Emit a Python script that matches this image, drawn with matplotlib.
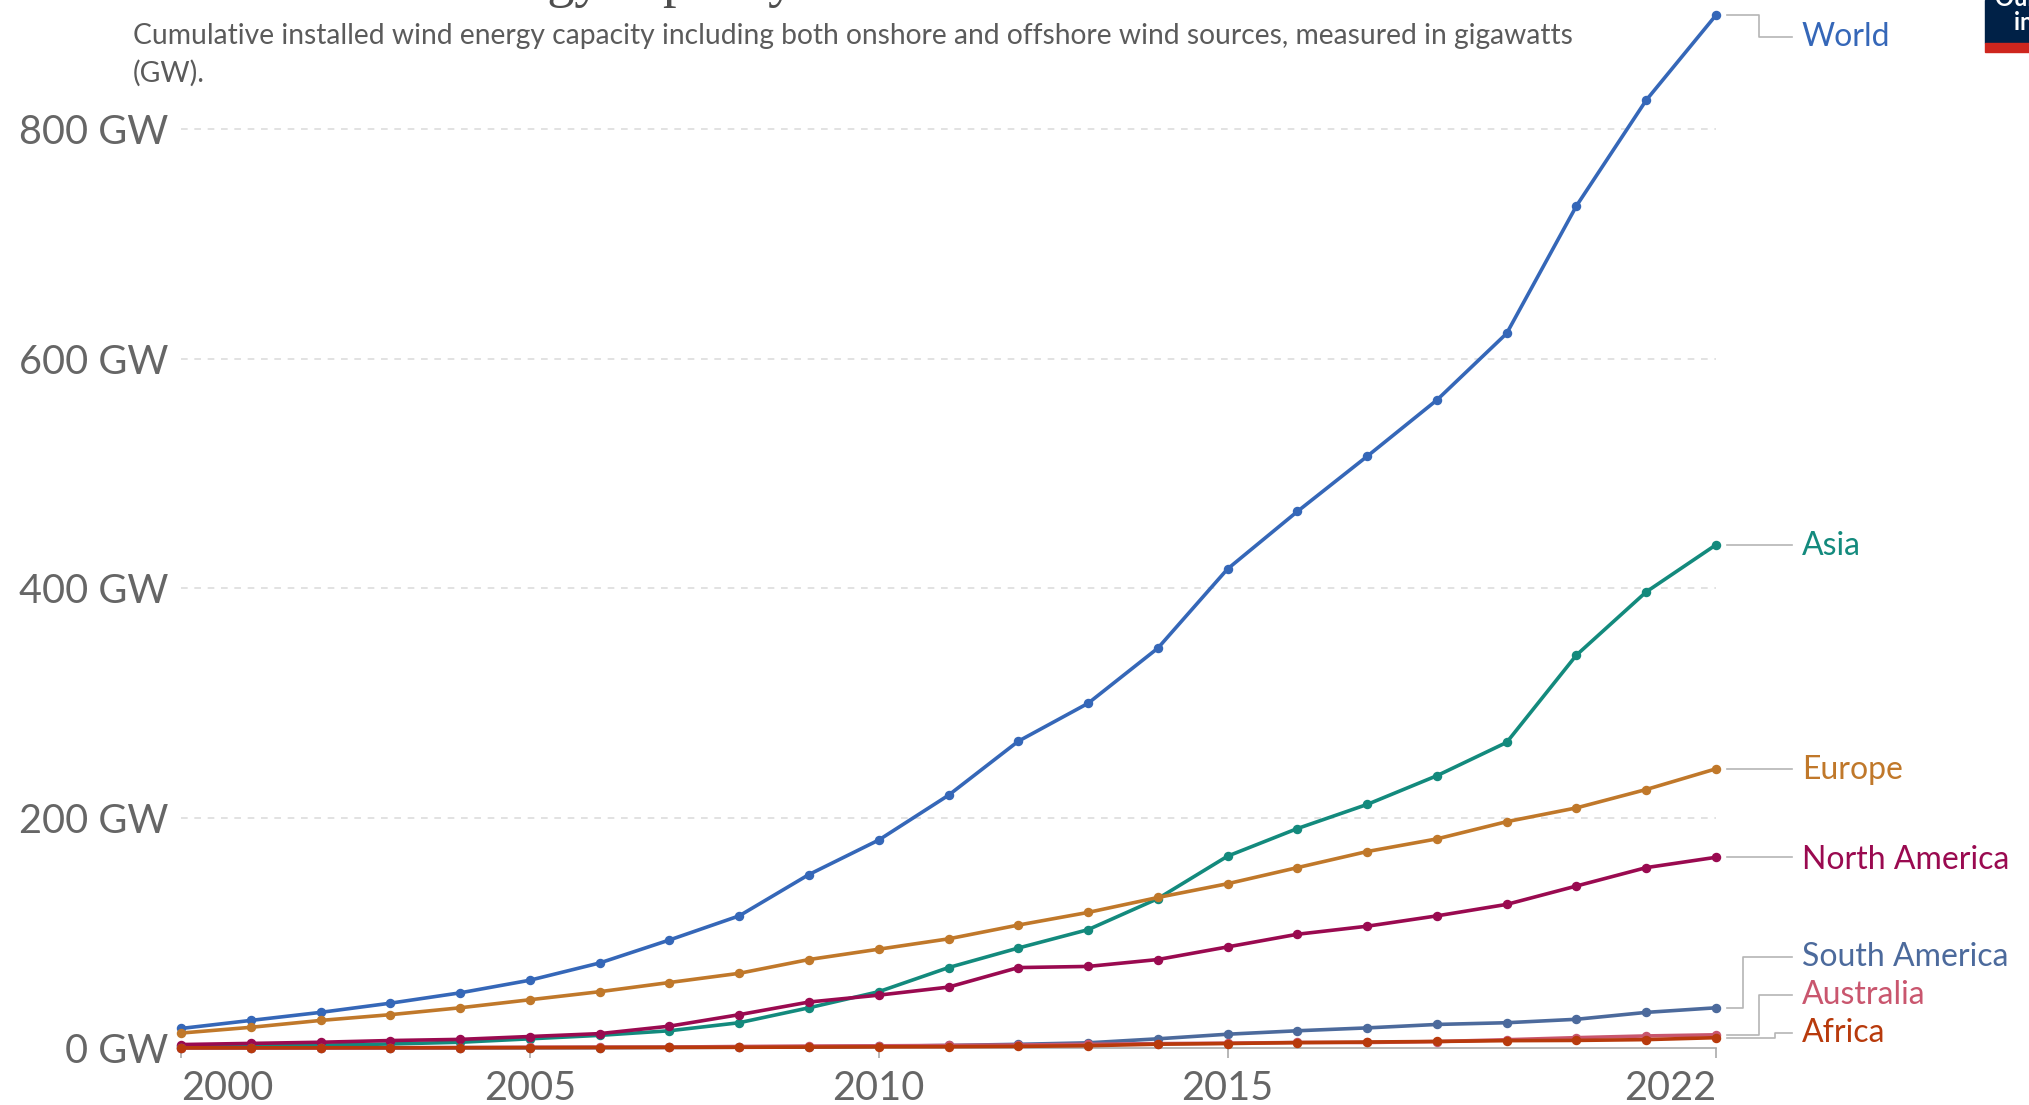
import matplotlib
matplotlib.use("Agg")
import matplotlib.pyplot as plt
from matplotlib.patches import Rectangle

# data: cumulative installed wind capacity (GW)
years = list(range(2000, 2023))
world = [17, 24, 31, 39, 48, 59, 74, 94, 115, 151, 181, 220, 267, 300, 348,
         417, 467, 515, 564, 622, 733, 825, 899]
asia = [1.5, 2, 2.5, 3.5, 5, 8, 11, 15, 22, 35, 49, 70, 87, 103, 130,
        167, 191, 212, 237, 266, 342, 397, 438]
europe = [13, 18, 24, 29, 35, 42, 49, 57, 65, 77, 86, 95, 107, 118, 131,
          143, 157, 171, 182, 197, 209, 225, 243]
north_america = [3, 4, 5, 6.5, 7.5, 10, 12.5, 19, 29, 40, 46, 53, 70, 71, 77,
                 88, 99, 106, 115, 125, 141, 157, 166]
south_america = [0.1, 0.1, 0.1, 0.1, 0.2, 0.2, 0.3, 0.5, 0.7, 1, 1.5, 2.2, 3.2,
                 4.5, 8, 12, 15, 17.5, 20.5, 22, 25, 31, 35]
australia = [0.03, 0.07, 0.1, 0.2, 0.4, 0.7, 0.8, 0.8, 1.3, 1.7, 1.9, 2.2, 2.6,
             3.2, 3.8, 4.2, 4.8, 4.8, 5.6, 7.2, 9, 10.5, 11.5]
africa = [0.15, 0.2, 0.2, 0.25, 0.25, 0.3, 0.4, 0.5, 0.6, 0.8, 1, 1.1, 1.4,
          2, 3.3, 3.9, 4.7, 5.2, 5.7, 6.4, 6.6, 7.3, 9]

series = [
    ("World", world, "#3567b8"),
    ("Asia", asia, "#138a7d"),
    ("Europe", europe, "#c0782a"),
    ("North America", north_america, "#9a0a50"),
    ("South America", south_america, "#4c6a9c"),
    ("Australia", australia, "#c9566e"),
    ("Africa", africa, "#b83a0c"),
]

# label placement (y in GW) and elbow x for the connector lines
label_y = {"World": 880, "Asia": 437, "Europe": 242, "North America": 164,
           "South America": 79, "Australia": 46, "Africa": 13}
elbow_x = {"World": 2022.62, "South America": 2022.39, "Australia": 2022.62,
           "Africa": 2022.85}

x_ticks = [2000, 2005, 2010, 2015, 2022]
y_ticks = [0, 200, 400, 600, 800]

W, H = 2029, 1105
fig = plt.figure(figsize=(W / 100, H / 100), dpi=100)
fig.patch.set_facecolor("white")

left, right, bottom, top = 181, 1716, 1048, 14
ax = fig.add_axes([left / W, 1 - bottom / H, (right - left) / W, (bottom - top) / H])
ax.set_xlim(2000, 2022)
ax.set_ylim(0, 900)

for name, vals, color in series:
    ax.plot(years, vals, color=color, lw=2.6, marker="o", ms=5.8,
            clip_on=False, zorder=3, solid_capstyle="round")

# connectors and labels
for name, vals, color in series:
    y_end = vals[-1]
    ly = label_y[name]
    if name in elbow_x:
        ex = elbow_x[name]
        xs = [2022.16, ex, ex, 2023.09]
        ys = [y_end, y_end, ly, ly]
    else:
        xs = [2022.16, 2023.09]
        ys = [y_end, y_end]
    ax.plot(xs, ys, color="#b5b5b5", lw=1.2, clip_on=False, zorder=2)
    ax.text(2023.23, ly, name, color=color, fontsize=23, family="Lato",
            va="center", ha="left", clip_on=False)

ax.grid(axis="y", color="#dddddd", lw=1.2, ls=(0, (4, 4)))
ax.set_axisbelow(True)
for s in ["top", "right", "left"]:
    ax.spines[s].set_visible(False)
ax.spines["bottom"].set_color("#aaaaaa")
ax.spines["bottom"].set_linewidth(1.2)

ax.set_xticks(x_ticks)
ax.set_xticklabels([str(t) for t in x_ticks], family="Lato")
ax.tick_params(axis="x", length=7, width=1.2, color="#aaaaaa", pad=9,
               labelsize=28.5, labelcolor="#666666")
ax.tick_params(axis="y", length=0, pad=9, labelsize=28.5, labelcolor="#666666")
xl = ax.get_xticklabels()
xl[0].set_ha("left")
xl[-1].set_ha("right")

ax.set_yticks(y_ticks)
ax.set_yticklabels([f"{v} GW" for v in y_ticks], family="Lato")
ax.yaxis.get_gridlines()[0].set_visible(False)

# title (mostly cropped off the top) and subtitle
fig.text(133 / W, 1 + 4 / H, "Installed wind energy capacity", family="Liberation Serif",
         fontsize=39, color="#4e4e4e", va="baseline", ha="left")
fig.text(133 / W, 1 - 36 / H,
         "Cumulative installed wind energy capacity including both onshore and offshore wind sources, measured in gigawatts",
         family="Lato", fontsize=20.3, color="#5b5b5b", va="center", ha="left")
fig.text(133 / W, 1 - 73 / H, "(GW).", family="Lato", fontsize=20.3,
         color="#5b5b5b", va="center", ha="left")

# logo fragment at the top right
fig.add_artist(Rectangle((1985 / W, 1 - 43 / H), 0.1, 43 / H,
                         transform=fig.transFigure, color="#002147", zorder=5))
fig.add_artist(Rectangle((1985 / W, 1 - 52 / H), 0.1, 9 / H,
                         transform=fig.transFigure, color="#ce261e", zorder=5))
fig.text(2052 / W, 1 + 1 / H, "Our World", family="Lato", weight="bold",
         fontsize=17, color="white", ha="center", va="center", zorder=6)
fig.text(2052 / W, 1 - 22 / H, "in Data", family="Lato", weight="bold",
         fontsize=17, color="white", ha="center", va="center", zorder=6)

fig.savefig("out.png", dpi=100)
